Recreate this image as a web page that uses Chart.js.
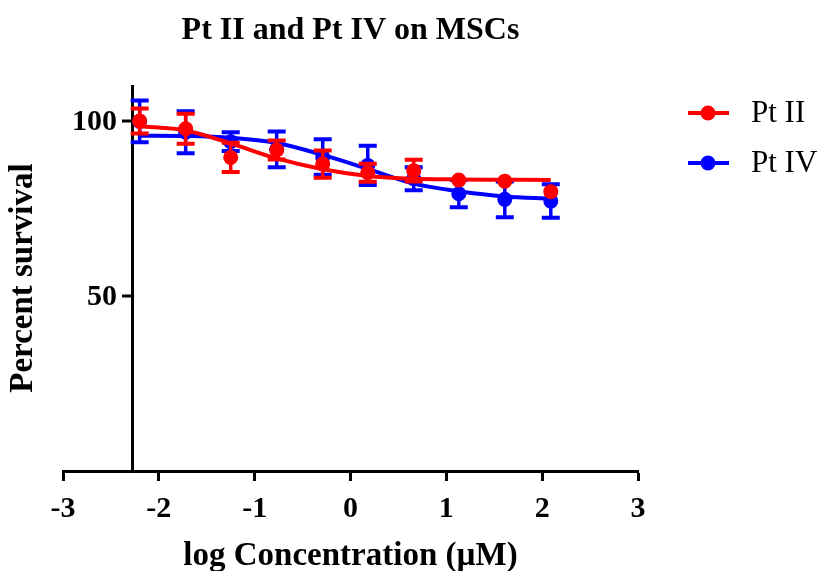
<!DOCTYPE html>
<html>
<head>
<meta charset="utf-8">
<title>Pt II and Pt IV on MSCs</title>
<script src="https://cdn.jsdelivr.net/npm/chart.js@4.4.1/dist/chart.umd.min.js"></script>
<style>
  html, body { margin: 0; padding: 0; background: #fff; }
  #wrap { width: 818px; height: 571px; }
</style>
</head>
<body>
<div id="wrap"><canvas id="mycanvas" width="818" height="571"></canvas></div>
<script>
// log concentration (uM) of each measured dose
var logConc = [-2.2, -1.72, -1.25, -0.77, -0.29, 0.18, 0.66, 1.13, 1.61, 2.09];

// mean percent survival and SEM
var ptIIMean = [100.1, 97.9, 89.7, 91.8, 87.8, 85.3, 85.9, 83.2, 82.9, 79.9];
var ptIIErr  = [3.6, 4.3, 4.2, 2.7, 3.9, 2.6, 3.1, 0, 0, 0];
var ptIVMean = [100.0, 96.9, 94.2, 92.0, 89.8, 87.4, 83.6, 79.3, 77.7, 77.2];
var ptIVErr  = [6.0, 6.0, 2.7, 5.1, 5.1, 5.6, 3.3, 3.9, 5.1, 4.8];

// fitted dose-response curves, sampled at the dose positions
var ptIICurve = [98.6, 97.4, 93.7, 89.4, 86.3, 84.4, 83.6, 83.4, 83.3, 83.2];
var ptIVCurve = [95.9, 95.8, 95.3, 93.8, 90.4, 86.4, 82.2, 80.0, 78.5, 77.9];

var xTicks = [-3, -2, -1, 0, 1, 2, 3];
var yTicks = [50, 100];
var yAxisAt = -2.28;   // where the y axis crosses the x axis

var RED = "#FF0000";
var BLUE = "#0000FF";
var SERIF = "'Liberation Serif', 'Times New Roman', serif";

function pts(xs, ys) {
	var out = [];
	for (var i in xs) {
		out.push({x: xs[i], y: ys[i]});
	}
	return out;
}

// draws the vertical SEM bars right before the point dataset is drawn
var errorBars = {
	id: "errorBars",
	beforeDatasetDraw: function(chart, args) {
		var ds = chart.data.datasets[args.index];
		if (!ds.errors) return;
		var ctx = chart.ctx;
		var xs = chart.scales.x, ys = chart.scales.y;
		ctx.save();
		ctx.strokeStyle = ds.borderColor;
		for (var i = 0; i < ds.data.length; i++) {
			var e = ds.errors[i];
			if (!e) continue;
			var px = xs.getPixelForValue(ds.data[i].x);
			var top = ys.getPixelForValue(ds.data[i].y + e);
			var bot = ys.getPixelForValue(ds.data[i].y - e);
			ctx.lineWidth = 3.5;
			ctx.beginPath();
			ctx.moveTo(px, top); ctx.lineTo(px, bot);
			ctx.stroke();
			ctx.lineWidth = 4;
			ctx.beginPath();
			ctx.moveTo(px - 9, top); ctx.lineTo(px + 9, top);
			ctx.moveTo(px - 9, bot); ctx.lineTo(px + 9, bot);
			ctx.stroke();
		}
		ctx.restore();
	}
};

// y ticks and labels (axis sits inside the plot), legend, axis titles
var extras = {
	id: "extras",
	afterDraw: function(chart) {
		var ctx = chart.ctx;
		var xs = chart.scales.x, ys = chart.scales.y;
		var ax = xs.getPixelForValue(yAxisAt);
		ctx.save();

		ctx.strokeStyle = "#000";
		ctx.fillStyle = "#000";
		ctx.lineWidth = 3;
		ctx.font = "bold 30px " + SERIF;
		ctx.textAlign = "right";
		ctx.textBaseline = "middle";
		yTicks.forEach(function(v) {
			var py = Math.round(ys.getPixelForValue(v));
			ctx.beginPath(); ctx.moveTo(ax - 10, py); ctx.lineTo(ax, py); ctx.stroke();
			ctx.fillText(String(v), ax - 15, py + 1);
		});

		var rows = chart.data.datasets.filter(function(d) { return d.inLegend; });
		rows.forEach(function(d, i) {
			var y = 113 + i * 50;
			ctx.strokeStyle = d.borderColor;
			ctx.fillStyle = d.borderColor;
			ctx.lineWidth = 4;
			ctx.beginPath(); ctx.moveTo(688, y); ctx.lineTo(729, y); ctx.stroke();
			ctx.beginPath(); ctx.arc(708, y, 7.5, 0, Math.PI * 2); ctx.fill();
			ctx.fillStyle = "#000";
			ctx.font = "31px " + SERIF;
			ctx.textBaseline = "middle";
			ctx.textAlign = "left";
			ctx.fillText(d.label, 751, y + 1);
		});

		ctx.fillStyle = "#000";
		ctx.font = "bold 33px " + SERIF;
		ctx.textAlign = "center";
		ctx.textBaseline = "alphabetic";
		ctx.fillText("log Concentration (\u00B5M)", (xs.left + xs.right) / 2, 565);

		ctx.translate(32, 278);
		ctx.rotate(-Math.PI / 2);
		ctx.fillText("Percent survival", 0, 0);
		ctx.restore();
	}
};

var chartdata = {
	datasets: [
	{
		label: "Pt II",
		inLegend: true,
		data: pts(logConc, ptIIMean),
		errors: ptIIErr,
		showLine: false,
		borderColor: RED,
		backgroundColor: RED,
		pointRadius: 7.5,
		pointBorderWidth: 0
	},
	{
		label: "Pt II fit",
		data: pts(logConc, ptIICurve),
		showLine: true,
		borderColor: RED,
		borderWidth: 4,
		pointRadius: 0,
		cubicInterpolationMode: "monotone"
	},
	{
		label: "Pt IV",
		inLegend: true,
		data: pts(logConc, ptIVMean),
		errors: ptIVErr,
		showLine: false,
		borderColor: BLUE,
		backgroundColor: BLUE,
		pointRadius: 7.5,
		pointBorderWidth: 0
	},
	{
		label: "Pt IV fit",
		data: pts(logConc, ptIVCurve),
		showLine: true,
		borderColor: BLUE,
		borderWidth: 4,
		pointRadius: 0,
		cubicInterpolationMode: "monotone"
	}
	]
};

var ctx = document.getElementById("mycanvas");
var graph = new Chart(ctx, {
	type: "scatter",
	data: chartdata,
	plugins: [errorBars, extras],
	options: {
		responsive: false,
		animation: false,
		devicePixelRatio: 1,
		layout: { padding: { left: 63, right: 180, top: 0, bottom: 34 } },
		plugins: {
			legend: { display: false },
			tooltip: { enabled: false },
			title: {
				display: true,
				text: "Pt II and Pt IV on MSCs",
				color: "#000",
				font: { family: SERIF, size: 32, weight: "bold" },
				padding: { top: 12, bottom: 36 }
			}
		},
		scales: {
			x: {
				type: "linear",
				min: -3, max: 3,
				afterBuildTicks: function(axis) {
					axis.ticks = xTicks.map(function(v) { return {value: v}; });
				},
				grid: { drawOnChartArea: false, drawTicks: true, tickLength: 10, tickWidth: 3, tickColor: "#000" },
				border: { display: true, width: 3, color: "#000" },
				ticks: {
					color: "#000",
					padding: 10,
					maxRotation: 0,
					font: { family: SERIF, size: 30, weight: "bold" }
				}
			},
			y: {
				type: "linear",
				position: { x: yAxisAt },
				min: 0, max: 110,
				afterBuildTicks: function(axis) {
					axis.ticks = yTicks.map(function(v) { return {value: v}; });
				},
				grid: { drawOnChartArea: false, drawTicks: false },
				border: { display: true, width: 3, color: "#000" },
				ticks: { display: false }
			}
		}
	}
});
</script>
</body>
</html>
